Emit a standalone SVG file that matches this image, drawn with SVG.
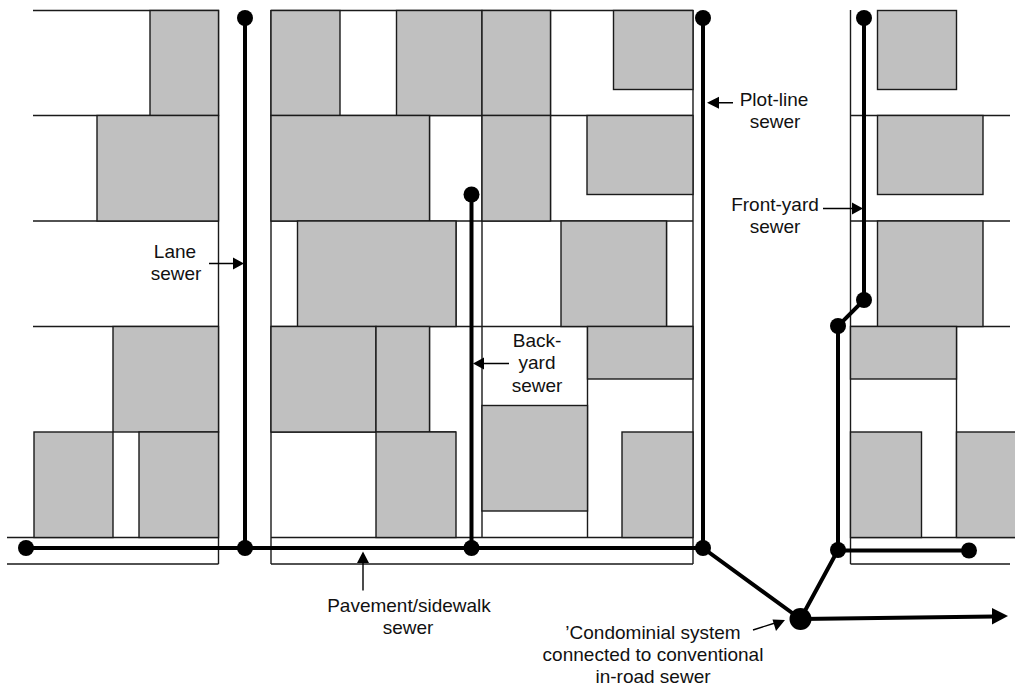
<svg xmlns="http://www.w3.org/2000/svg" width="1015" height="690" viewBox="0 0 1015 690">
<style>
.b{fill:#c0c0c0;stroke:#1a1a1a;stroke-width:1.4}
.p{fill:none;stroke:#1a1a1a;stroke-width:1.4}
.s{fill:none;stroke:#000;stroke-width:4}
.a{fill:none;stroke:#000;stroke-width:1.4}
.h{fill:#000;stroke:none}
.d{fill:#000}
text{font-family:"Liberation Sans",Arial,sans-serif;font-size:19px;fill:#111;text-anchor:middle}
</style>
<rect width="1015" height="690" fill="#fff"/>
<g id="plots">
<path class="p" d="M33 10.5H218.500V564M33 115.500H218.500M33 221H218.500M33 326.500H218.500M7 537.500H218.500M7 564H218.500"/>
<path class="p" d="M271 10V564M271 10.500H693M271 115.500H693M271 221H693M271 326.500H693M271 432H456M271 537.500H693M271 564H693M693 10V564M482 10V537.500M550.500 10V221M429.500 115.500V221M429.500 326.500V432M456 221V326.500M587.500 326.500V537.500M666.500 221V326.500"/>
<path class="p" d="M850.500 10V564M850.500 115.500H1010M850.500 221H1010M850.500 326.500H1010M850.500 537.500H1015M850.500 564H1010M956.500 326.500V537.500"/>
</g>
<g id="buildings">
<rect class="b" x="150" y="10.500" width="68.500" height="105"/>
<rect class="b" x="97" y="115.500" width="121.500" height="105.500"/>
<rect class="b" x="113" y="326.500" width="105.500" height="105.500"/>
<rect class="b" x="34" y="432" width="79" height="105.500"/>
<rect class="b" x="139" y="432" width="79.500" height="105.500"/>
<rect class="b" x="271" y="10.500" width="69" height="105"/>
<rect class="b" x="396.500" y="10.500" width="85.500" height="105"/>
<rect class="b" x="482" y="10.500" width="68.500" height="105"/>
<rect class="b" x="613.500" y="10.500" width="79.500" height="79"/>
<rect class="b" x="271" y="115.500" width="158.500" height="105.500"/>
<rect class="b" x="482" y="115.500" width="68.500" height="105.500"/>
<rect class="b" x="587" y="115.500" width="106" height="79"/>
<rect class="b" x="297.500" y="221" width="158.500" height="105.500"/>
<rect class="b" x="561" y="221" width="105.500" height="105.500"/>
<rect class="b" x="271" y="326.500" width="105" height="105.500"/>
<rect class="b" x="376" y="326.500" width="53.500" height="105.500"/>
<rect class="b" x="587.500" y="326.500" width="105.500" height="52.500"/>
<rect class="b" x="376" y="432" width="80" height="105.500"/>
<rect class="b" x="482" y="405.500" width="105.500" height="105.500"/>
<rect class="b" x="622" y="432" width="71" height="105.500"/>
<rect class="b" x="877.500" y="10.500" width="79" height="79"/>
<rect class="b" x="877.500" y="115.500" width="105.500" height="79"/>
<rect class="b" x="877.500" y="221" width="105.500" height="105.500"/>
<rect class="b" x="850.500" y="326.500" width="106" height="52.500"/>
<rect class="b" x="850.500" y="432" width="71" height="105.500"/>
<rect class="b" x="956.500" y="432" width="60" height="105.500"/>
</g>
<g id="connectors">
<path class="s" d="M26 548H703M245 18V548M471.500 194.500V548M703 18V548L800.500 619M864 18V300L838 326V550L800.500 619M838 550.500H969"/>
<path class="s" d="M800.500 619L994 616.500"/>
<path class="h" d="M1008 616L992 608V624.500Z"/>
<path class="a" d="M209 263.500H234M719 102.700H733M823 208.500H853M483 363.500H509M363 563V590.500M753 630L775 623"/>
<path class="h" d="M244 263.500L233 257.500V269.500ZM707 102.700L719 96.700V108.700ZM863 208.500L852 202.500V214.500ZM473 363.500L484 357.500V369.500ZM363 551.500L357 563H369ZM785 620L772.500 619.500L776 631Z"/>
</g>
<g id="nodes">
<circle id="n1" class="d" cx="26" cy="548" r="8"/>
<circle id="n2" class="d" cx="245" cy="18" r="8"/>
<circle id="n3" class="d" cx="245" cy="548" r="8"/>
<circle id="n4" class="d" cx="471.500" cy="194.500" r="8"/>
<circle id="n5" class="d" cx="471.500" cy="548" r="8"/>
<circle id="n6" class="d" cx="703" cy="18" r="8"/>
<circle id="n7" class="d" cx="703" cy="548" r="8"/>
<circle id="n8" class="d" cx="864" cy="18" r="8"/>
<circle id="n9" class="d" cx="864" cy="300" r="8"/>
<circle id="n10" class="d" cx="838" cy="326" r="8"/>
<circle id="n11" class="d" cx="838" cy="550" r="8"/>
<circle id="n12" class="d" cx="969" cy="550.500" r="8"/>
<circle id="n13" class="d" cx="800.500" cy="619" r="11"/>
</g>
<g id="labels">
<text x="175" y="258">Lane</text><text x="176" y="280">sewer</text>
<text x="774" y="106">Plot-line</text><text x="775" y="128">sewer</text>
<text x="775" y="211">Front-yard</text><text x="775" y="233">sewer</text>
<text x="537" y="347">Back-</text><text x="537" y="369">yard</text><text x="537" y="392">sewer</text>
<text x="409" y="612">Pavement/sidewalk</text><text x="408" y="634">sewer</text>
<text x="653" y="639">’Condominial system</text><text x="653" y="661">connected to conventional</text><text x="653" y="683">in-road sewer</text>
</g>
</svg>
